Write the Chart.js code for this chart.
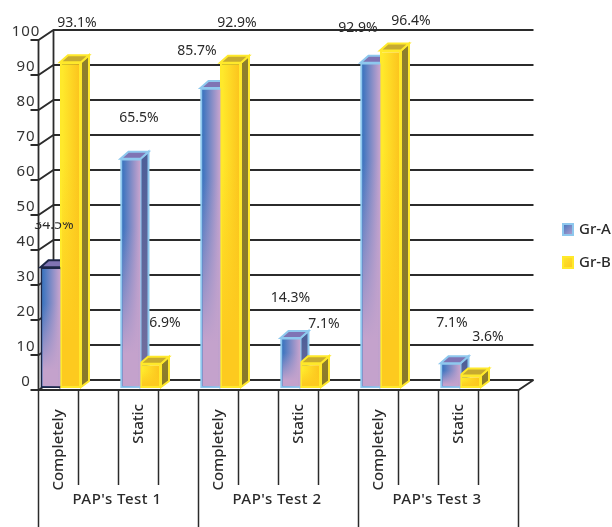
<!DOCTYPE html>
<html>
<head>
<meta charset="utf-8">
<script src="https://cdn.jsdelivr.net/npm/chart.js@4"></script>
<style>
  html, body { margin: 0; padding: 0; background: #fff; }
  canvas { display: block; }
</style>
</head>
<body>
<canvas id="barChart" width="612" height="527"></canvas>
<script>
const categories = ['Completely', '', 'Static', '', 'Completely', '', 'Static', '', 'Completely', '', 'Static', ''];
const groups = ["PAP's Test 1", "PAP's Test 2", "PAP's Test 3"];
const grA = [34.5, null, 65.5, null, 85.7, null, 14.3, null, 92.9, null, 7.1, null];
const grB = [93.1, null, 6.9, null, 92.9, null, 7.1, null, 96.4, null, 3.6, null];
const seriesNames = ['Gr-A', 'Gr-B'];
const tickValues = [0, 10, 20, 30, 40, 50, 60, 70, 80, 90, 100];

// hand placed value labels, relative to the top of each bar
const labelShift = [
  [[3.5, -42], [8.5, -41], [-13.5, -37], [0, -40], [-12.5, -35], [1.5, -40]],
  [[6.5, -39], [14.5, -41], [6.5, -40], [13.5, -39], [20.5, -30], [17.5, -38]],
];

const DEPTH_X = 8;
const DEPTH_Y = 7;
const WALL_X = 15;
const WALL_Y = 10;
const LINE = '#2b2b2b';
const TEXT = '#2a2a2a';

const looks = [
  { left: '#3b74bf', right: '#c3a2cd', fade: '#c4a2cc', edge: '#8ec8ee', sideTop: '#4e5f98', sideEnd: '#76709f', top: '#7f74b4' },
  { left: '#ffe92b', right: '#fcc41e', fade: '#fdca1f', edge: '#ffe92b', sideTop: '#8f7f2c', sideEnd: '#897a2a', top: '#c6aa30' },
];

function frontGradient(ctx) {
  const chart = ctx.chart;
  const look = looks[ctx.datasetIndex];
  const cx = chart.scales.x.getPixelForValue(ctx.dataIndex);
  if (!Number.isFinite(cx)) return look.left;
  const x0 = ctx.datasetIndex === 0 ? cx - 20 : cx;
  const g = chart.ctx.createLinearGradient(x0, 0, x0 + 21, 0);
  g.addColorStop(0.1, look.left);
  g.addColorStop(0.9, look.right);
  return g;
}

function shape(c, points, fill, stroke) {
  c.beginPath();
  points.forEach(function (p, i) {
    if (i === 0) c.moveTo(p[0], p[1]);
    else c.lineTo(p[0], p[1]);
  });
  c.closePath();
  c.fillStyle = fill;
  c.fill();
  c.lineWidth = 2;
  c.strokeStyle = stroke;
  c.lineJoin = 'miter';
  c.stroke();
}

function edgeColor(index, bar) {
  // the first Gr-A bar has a dark outline
  return index === 0 && bar === 0 ? '#1d2748' : looks[index].edge;
}

const frame = {
  id: 'frame',
  beforeDatasetsDraw(chart) {
    const c = chart.ctx;
    const y = chart.scales.y;
    const x = chart.scales.x;
    const half = x.getPixelForValue(1) - x.getPixelForValue(0);
    const left = x.getPixelForValue(0) - half / 2 - 2;
    const right = x.getPixelForValue(11) + half / 2 - 2;
    const floor = y.getPixelForValue(0) + 2;

    c.save();
    // walls and grid lines
    c.strokeStyle = LINE;
    c.lineWidth = 1.8;
    tickValues.forEach(function (v) {
      const py = y.getPixelForValue(v) + 2;
      c.beginPath();
      c.moveTo(left - 8, py);
      c.lineTo(left, py);
      c.lineTo(left + WALL_X, py - WALL_Y);
      c.lineTo(right + WALL_X, py - WALL_Y);
      c.stroke();
    });
    c.beginPath();
    c.moveTo(left, y.getPixelForValue(100) + 2);
    c.lineTo(left, floor);
    c.lineTo(right, floor);
    c.lineTo(right + WALL_X, floor - WALL_Y);
    c.moveTo(left + WALL_X, y.getPixelForValue(100) + 2 - WALL_Y);
    c.lineTo(left + WALL_X, floor - WALL_Y);
    c.stroke();

    // category dividers under the floor
    c.lineWidth = 1.5;
    for (let i = 0; i <= categories.length; i++) {
      const px = left + i * half;
      c.beginPath();
      c.moveTo(px, floor);
      c.lineTo(px, i % 4 === 0 ? 527 : 485);
      c.stroke();
    }

    // y axis numbers
    c.fillStyle = '#333';
    c.font = '15px "Noto Sans"';
    c.letterSpacing = '1px';
    c.textAlign = 'center';
    c.textBaseline = 'middle';
    tickValues.forEach(function (v) {
      c.fillText(String(v), 26, y.getPixelForValue(v) - 6);
    });
    c.letterSpacing = '0px';

    // category names, turned upright
    c.fillStyle = TEXT;
    c.font = '500 15px "Noto Sans"';
    categories.forEach(function (name, i) {
      if (!name) return;
      c.save();
      c.translate(x.getPixelForValue(i) - 2, name === 'Static' ? 424 : 450);
      c.rotate(-Math.PI / 2);
      c.fillText(name, 0, 0);
      c.restore();
    });

    // group names
    c.font = '500 15px "Noto Sans"';
    c.letterSpacing = '0.5px';
    groups.forEach(function (name, i) {
      c.fillText(name, left + half * (4 * i + 2) - 1.5, 500);
    });
    c.letterSpacing = '0px';

    // legend
    seriesNames.forEach(function (name, i) {
      const top = 224 + i * 33;
      const g = c.createLinearGradient(562, top, 574, top + 12);
      g.addColorStop(0, looks[i].left);
      g.addColorStop(1, looks[i].right);
      c.fillStyle = g;
      c.strokeStyle = looks[i].edge;
      c.lineWidth = 2;
      c.fillRect(563, top, 10, 11);
      c.strokeRect(563, top, 10, 11);
      c.fillStyle = TEXT;
      c.textAlign = 'left';
      c.fillText(name, 579, top + 6);
      c.textAlign = 'center';
    });

    // depth faces go in first, Gr-A then Gr-B, so the front faces cover them
    [0, 1].forEach(function (s) {
      const look = looks[s];
      const data = chart.data.datasets[s].data;
      chart.getDatasetMeta(s).data.forEach(function (bar, i) {
        if (data[i] === null) return;
        const l = bar.x - bar.width / 2;
        const r = bar.x + bar.width / 2;
        const edge = edgeColor(s, i);
        const g = c.createLinearGradient(0, bar.y, 0, bar.base);
        g.addColorStop(0, look.sideTop);
        g.addColorStop(1, look.sideEnd);
        shape(c, [[r, bar.y], [r + DEPTH_X, bar.y - DEPTH_Y], [r + DEPTH_X, bar.base - DEPTH_Y], [r, bar.base - 1]], g, edge);
        shape(c, [[l, bar.y], [l + DEPTH_X, bar.y - DEPTH_Y], [r + DEPTH_X, bar.y - DEPTH_Y], [r, bar.y]], look.top, edge);
      });
    });
    c.restore();
  },
  afterDatasetDraw(chart, args) {
    // lower part of each front face melts into a flat tint
    const c = chart.ctx;
    const look = looks[args.index];
    const data = chart.data.datasets[args.index].data;
    c.save();
    args.meta.data.forEach(function (bar, i) {
      if (data[i] === null) return;
      const g = c.createLinearGradient(0, bar.y, 0, bar.base);
      g.addColorStop(0.3, look.fade + '00');
      g.addColorStop(0.85, look.fade + 'ff');
      c.fillStyle = g;
      c.fillRect(bar.x - bar.width / 2 + 2, bar.y + 2, bar.width - 4, bar.base - bar.y - 4);
    });
    c.restore();
  },
  afterDatasetsDraw(chart) {
    const c = chart.ctx;
    c.save();
    c.fillStyle = TEXT;
    c.font = '14px "Noto Sans"';
    c.textAlign = 'center';
    c.textBaseline = 'middle';
    [grA, grB].forEach(function (values, s) {
      const bars = chart.getDatasetMeta(s).data;
      values.forEach(function (v, i) {
        if (v === null) return;
        const shift = labelShift[s][i / 2];
        const px = bars[i].x + shift[0];
        const py = bars[i].y + shift[1];
        c.save();
        if (s === 0 && i === 0) {
          // this label only shows its lower part
          c.beginPath();
          c.rect(px - 30, py - 3, 60, 14);
          c.clip();
        }
        c.fillText(v.toFixed(1) + '%', px, py);
        c.restore();
      });
    });
    c.restore();
  },
};

function barColor(ctx) {
  return edgeColor(ctx.datasetIndex, ctx.dataIndex);
}

new Chart(document.getElementById('barChart'), {
  type: 'bar',
  plugins: [frame],
  data: {
    labels: categories,
    datasets: [
      { label: seriesNames[0], data: grA, barPercentage: 1, borderSkipped: 'right', backgroundColor: frontGradient, borderColor: barColor },
      { label: seriesNames[1], data: grB, barPercentage: 1.05, borderSkipped: false, backgroundColor: frontGradient, borderColor: barColor },
    ],
  },
  options: {
    responsive: false,
    animation: false,
    layout: { padding: { left: 40.5, right: 91.5, top: 38, bottom: 139 } },
    datasets: {
      bar: { categoryPercentage: 1, borderWidth: 2 },
    },
    plugins: { colors: { enabled: false }, legend: { display: false }, tooltip: { enabled: false } },
    scales: {
      x: { display: false },
      y: { display: false, min: 0, max: 100 },
    },
  },
});
</script>
</body>
</html>
